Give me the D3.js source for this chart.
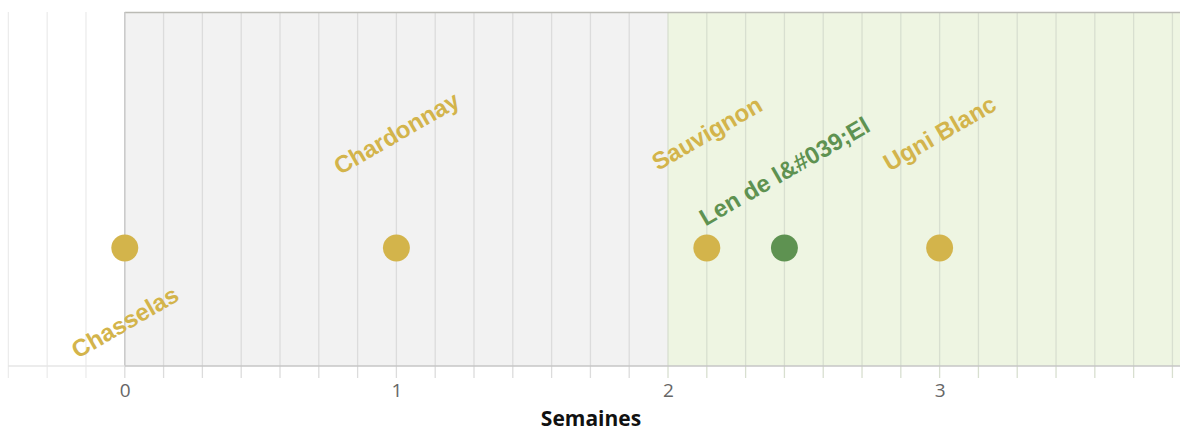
<!DOCTYPE html>
<html>
<head>
<meta charset="utf-8">
<script src="https://cdn.jsdelivr.net/npm/d3@7"></script>
<style>
  html, body { margin: 0; padding: 0; background: #fff; }
  svg { display: block; font-family: "Liberation Sans", Arial, sans-serif; }
</style>
</head>
<body>
<svg id="chart" width="1180" height="432"></svg>
<script>
// ---- data ----
const cepages = ["Chasselas", "Chardonnay", "Sauvignon", "Len de l&#039;El", "Ugni Blanc"];
const semaines = [0, 1, 15/7, 17/7, 3];
const lane = [1, 1, 1, 1, 1];
const groupe = ["blanc", "blanc", "blanc", "vert", "blanc"];
const labelTier = [-1, 2, 2, 1, 2];
const tickValues = [0, 1, 2, 3];
const tickLabels = ["0", "1", "2", "3"];
const bands = [{ from: 0, to: 2, name: "gris" }, { from: 2, to: 4, name: "vert" }];
const xTitle = "Semaines";

// ---- layout ----
const mLeft = 8, mRight = 1180, mTop = 12, mBottom = 366;
const svg = d3.select("#chart");

const x = d3.scaleLinear().domain([-0.43, 3.885]).range([mLeft, mRight]);
const y = d3.scaleLinear().domain([0, 3]).range([mBottom, mTop]);
const color = d3.scaleOrdinal().domain(["blanc", "vert"]).range(["#d3b44b", "#5e9251"]);
const bandFill = d3.scaleOrdinal().domain(["gris", "vert"]).range(["#f2f2f2", "#eef5e2"]);

// bands
svg.append("g").selectAll("rect").data(bands).join("rect")
  .attr("x", d => x(d.from))
  .attr("y", mTop)
  .attr("width", d => Math.min(x(d.to), mRight) - x(d.from))
  .attr("height", mBottom - mTop)
  .attr("fill", d => bandFill(d.name));

// minor grid (days)
const minor = d3.range(-3, 28).map(i => i / 7);
svg.append("g").selectAll("line").data(minor).join("line")
  .attr("x1", d => x(d)).attr("x2", d => x(d))
  .attr("y1", mTop).attr("y2", mBottom + 12)
  .attr("stroke", d => d < 0 ? "#ececec" : (d >= 2 ? "#d8dfd0" : "#dcdcdc"))
  .attr("stroke-width", 1.3);

// band top border + left border
svg.append("line").attr("x1", x(0)).attr("x2", mRight).attr("y1", mTop + 0.5).attr("y2", mTop + 0.5)
  .attr("stroke", "#bbbbb5").attr("stroke-width", 1.3);
svg.append("line").attr("x1", x(0)).attr("x2", x(0)).attr("y1", mTop).attr("y2", mBottom)
  .attr("stroke", "#c8c8c8").attr("stroke-width", 1.3);

// axis
const axis = d3.axisBottom(x).tickValues(tickValues).tickFormat((d, i) => tickLabels[i]).tickSize(0).tickPadding(18);
const gAxis = svg.append("g").attr("transform", `translate(0,${mBottom})`).call(axis);
gAxis.select(".domain").remove();
gAxis.selectAll("text").attr("fill", "#666").style("font-size", "19px").style("font-family", "'Open Sans', 'Liberation Sans', sans-serif");
svg.append("line").attr("x1", mLeft).attr("x2", x(0)).attr("y1", mBottom).attr("y2", mBottom)
  .attr("stroke", "#e6e6e6").attr("stroke-width", 1.5);
svg.append("line").attr("x1", x(0)).attr("x2", mRight).attr("y1", mBottom).attr("y2", mBottom)
  .attr("stroke", "#c6c6c6").attr("stroke-width", 1.5);

svg.append("text").attr("x", (mLeft + mRight) / 2 - 3).attr("y", 426)
  .attr("text-anchor", "middle").attr("font-weight", "bold").attr("font-size", 21)
  .style("font-family", "'Open Sans', 'Liberation Sans', sans-serif")
  .attr("fill", "#111").text(xTitle);

// points
const pts = cepages.map((c, i) => ({ name: c, x: semaines[i], y: lane[i], g: groupe[i], tier: labelTier[i] }));
svg.append("g").selectAll("circle").data(pts).join("circle")
  .attr("cx", d => x(d.x)).attr("cy", d => y(d.y))
  .attr("r", 13.5).attr("fill", d => color(d.g));

// labels
svg.append("g").selectAll("text").data(pts).join("text")
  .attr("transform", d => {
    const off = d.tier > 0 ? -(39 + 38 * d.tier) : (36 + 38 * -d.tier);
    return `translate(${x(d.x)},${y(d.y) + off}) rotate(-30)`;
  })
  .attr("text-anchor", "middle").attr("dominant-baseline", "central")
  .attr("font-weight", "bold").attr("font-size", 24)
  .attr("fill", d => color(d.g))
  .text(d => d.name);
</script>
</body>
</html>
